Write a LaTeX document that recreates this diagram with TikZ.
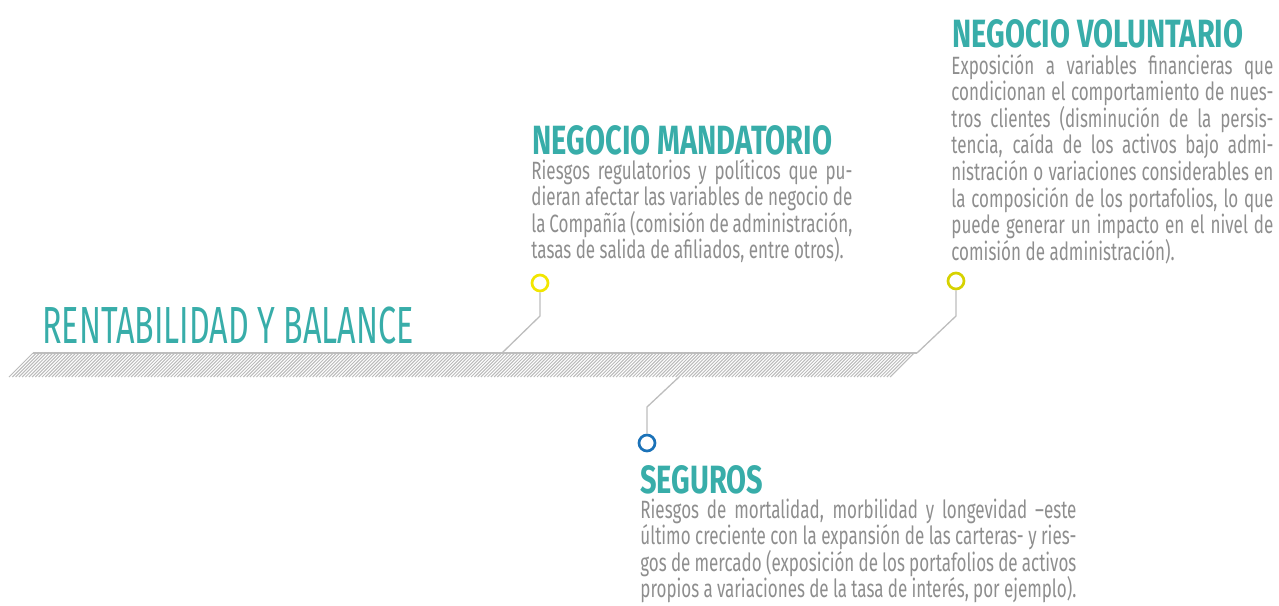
\documentclass[tikz,border=0pt]{standalone}
\usepackage{fontspec}
\setmainfont{Fira Sans}[FakeStretch=0.68]
\usepackage{graphicx}
\usetikzlibrary{calc}

\definecolor{headteal}{HTML}{38ADA9}
\definecolor{bodygray}{HTML}{8E8E8E}
\definecolor{linegray}{HTML}{BDBDBD}
\definecolor{hatchgray}{HTML}{BABABA}
\definecolor{dotyellow}{HTML}{F2E600}
\definecolor{dotolive}{HTML}{D6D200}
\definecolor{dotblue}{HTML}{1B72B8}

\hbadness=10000
\newcommand\bodyfont{\fontsize{12.5pt}{13.3pt}\selectfont\lineskiplimit=-20pt\relax}

\begin{document}
\begin{tikzpicture}[
 x=0.5pt, y=-0.5pt,
 headline/.style={anchor=base west, inner sep=0pt, text=headteal, font=\bfseries},
 body/.style={anchor=base west, inner sep=0pt, text=bodygray, align=justify, font=\bodyfont},
 dot/.style={draw, circle, line width=1.35pt, minimum size=8pt, inner sep=0pt, fill=white},
 link/.style={draw=linegray, line width=0.65pt},
 hatch/.style={draw=hatchgray, line width=0.5pt}
 ]

  \useasboundingbox (0,0) rectangle (1279,605);

  % Hatched bar
  \coordinate (bar_nw) at (33,353);
  \coordinate (bar_ne) at (917,353);
  \coordinate (bar_sw) at (9,377);
  \foreach \k in {0,...,267}
    \draw[hatch] ($(bar_sw)+(\k*3.3,0)$) -- ++(24,-24);
  \draw[link] (bar_nw) -- (bar_ne);

  % Title
  \node[anchor=base west, inner sep=0pt, text=headteal] (title) at (42,343)
    {\resizebox{185.5pt}{18.3pt}{RENTABILIDAD Y BALANCE}};

  % Negocio mandatorio
  \node[headline] (mand_head) at (532,154) {\resizebox{150pt}{14.5pt}{NEGOCIO MANDATORIO}};
  \node[body, text width=160.5pt] (mand_text) at (531,179)
    {Riesgos regulatorios y políticos que pu-\linebreak
     dieran afectar las variables de negocio de\linebreak
     la Compañía (comisión de administración,\linebreak
     tasas de salida de afiliados, entre otros).};
  \node[dot, draw=dotyellow] (mand_dot) at (540,283) {};
  \coordinate (mand_knee) at (540,316);
  \coordinate (mand_foot) at (502,353);
  \draw[link] (mand_dot) -- (mand_knee) -- (mand_foot);

  % Negocio voluntario
  \node[headline] (vol_head) at (952,47) {\resizebox{145.5pt}{14pt}{NEGOCIO VOLUNTARIO}};
  \node[body, text width=161pt] (vol_text) at (951,74)
    {Exposición a variables financieras que\linebreak
     condicionan el comportamiento de nues-\linebreak
     tros clientes (disminución de la persis-\linebreak
     tencia, caída de los activos bajo admi-\linebreak
     nistración o variaciones considerables en\linebreak
     la composición de los portafolios, lo que\linebreak
     puede generar un impacto en el nivel de\linebreak
     comisión de administración).};
  \node[dot, draw=dotolive] (vol_dot) at (956,281) {};
  \coordinate (vol_knee) at (956,316);
  \draw[link] (vol_dot) -- (vol_knee) -- (bar_ne);

  % Seguros
  \node[dot, draw=dotblue] (seg_dot) at (647,443) {};
  \coordinate (seg_knee) at (647,407);
  \coordinate (seg_foot) at (679,377);
  \draw[link] (seg_dot) -- (seg_knee) -- (seg_foot);
  \node[headline] (seg_head) at (640,493) {\resizebox{61.5pt}{14pt}{SEGUROS}};
  \node[body, text width=218pt] (seg_text) at (640,518)
    {Riesgos de mortalidad, morbilidad y longevidad –este\linebreak
     último creciente con la expansión de las carteras- y ries-\linebreak
     gos de mercado (exposición de los portafolios de activos\linebreak
     propios a variaciones de la tasa de interés, por ejemplo).};

\end{tikzpicture}
\end{document}
